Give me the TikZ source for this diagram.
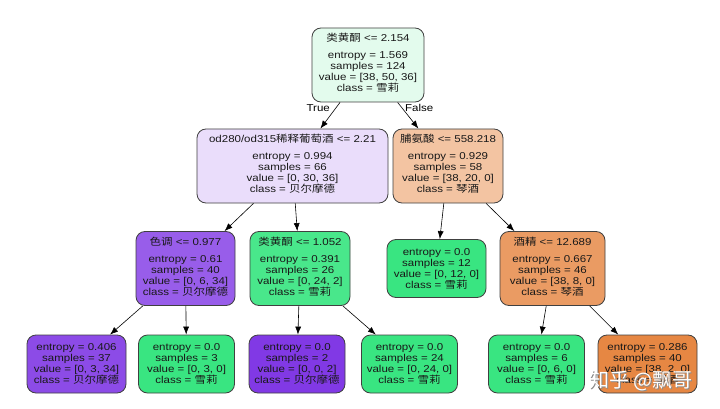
\documentclass[tikz,border=0pt]{standalone}
\usepackage{fontspec}
\usepackage{xcolor}
\setmainfont{Liberation Sans}[FakeStretch=1.15]
\newfontfamily\cjk{Noto Sans CJK SC}[FakeStretch=1.15]
\newfontfamily\cjkmark{Noto Sans CJK SC}
\newcommand{\zh}[1]{{\cjk #1}}
\usetikzlibrary{arrows.meta, positioning}
\definecolor{skorange}{HTML}{E58139}
\definecolor{skgreen}{HTML}{39E581}
\definecolor{skpurple}{HTML}{8139E5}
\tikzset{
        tnode/.style = {draw=black!75, rectangle, rounded corners=9pt,
            align=center, inner sep=2pt, line width=0.8pt,
            text=black!90, font=\fontsize{10}{11}\selectfont},
        split/.style = {tnode, minimum height=74pt,
            execute at end node={\rule[-5pt]{0pt}{5pt}}},
        leaf/.style = {tnode, minimum height=58pt, minimum width=96pt},
        arrow/.style = {draw, -{Latex[length=8pt,width=6pt]}, line width=0.6pt},
        edgelabel/.style = {font=\fontsize{10}{11}\selectfont, inner sep=1pt},
}

\begin{document}
\begin{tikzpicture}[x=1pt, y=-1pt]
\fill [white] (0,0) rectangle (720,409);
\useasboundingbox (0,0) rectangle (720,409);
% splits
\node [split, fill=skgreen!14, minimum width=112pt] (root) at (368,65)
  {\zh{类黄酮} <= 2.154\\[6pt] entropy = 1.569\\ samples = 124\\ value = [38, 50, 36]\\ class = \zh{雪莉}};
\node [split, fill=skpurple!17, minimum width=191pt] (odr) at (292.5,166)
  {od280/od315\zh{稀释葡萄酒} <= 2.21\\[6pt] entropy = 0.994\\ samples = 66\\ value = [0, 30, 36]\\ class = \zh{贝尔摩德}};
\node [split, fill=skorange!47, minimum width=110pt] (pro) at (448,166)
  {\zh{脯氨酸} <= 558.218\\[6pt] entropy = 0.929\\ samples = 58\\ value = [38, 20, 0]\\ class = \zh{琴酒}};
\node [split, fill=skpurple!82, minimum width=99pt] (hue) at (185.5,268.5)
  {\zh{色调} <= 0.977\\[6pt] entropy = 0.61\\ samples = 40\\ value = [0, 6, 34]\\ class = \zh{贝尔摩德}};
\node [split, fill=skgreen!92, minimum width=100pt] (fla) at (300,268.5)
  {\zh{类黄酮} <= 1.052\\[6pt] entropy = 0.391\\ samples = 26\\ value = [0, 24, 2]\\ class = \zh{雪莉}};
\node [leaf, fill=skgreen, minimum width=99pt] (leafa) at (436.5,268.5)
  {entropy = 0.0\\ samples = 12\\ value = [0, 12, 0]\\ class = \zh{雪莉}};
\node [split, fill=skorange!79, minimum width=105pt] (alc) at (552.5,268.5)
  {\zh{酒精} <= 12.689\\[6pt] entropy = 0.667\\ samples = 46\\ value = [38, 8, 0]\\ class = \zh{琴酒}};
% leaves
\node [leaf, fill=skpurple!91, minimum width=99pt] (leafb) at (76.5,364)
  {entropy = 0.406\\ samples = 37\\ value = [0, 3, 34]\\ class = \zh{贝尔摩德}};
\node [leaf, fill=skgreen] (leafc) at (186.5,364)
  {entropy = 0.0\\ samples = 3\\ value = [0, 3, 0]\\ class = \zh{雪莉}};
\node [leaf, fill=skpurple] (leafd) at (297,364)
  {entropy = 0.0\\ samples = 2\\ value = [0, 0, 2]\\ class = \zh{贝尔摩德}};
\node [leaf, fill=skgreen] (leafe) at (409.5,364)
  {entropy = 0.0\\ samples = 24\\ value = [0, 24, 0]\\ class = \zh{雪莉}};
\node [leaf, fill=skgreen] (leaff) at (536.5,364)
  {entropy = 0.0\\ samples = 6\\ value = [0, 6, 0]\\ class = \zh{雪莉}};
\node [leaf, fill=skorange!95, minimum width=99pt] (leafg) at (647.5,364)
  {entropy = 0.286\\ samples = 40\\ value = [38, 2, 0]\\ class = \zh{琴酒}};
% edges
\draw [arrow] (root) -- node[edgelabel, pos=0.2, left=5pt] (truelbl) {True} (odr);
\draw [arrow] (root) -- node[edgelabel, pos=0.2, right=2pt] (falselbl) {False} (pro);
\draw [arrow] (odr) -- (hue);
\draw [arrow] (odr) -- (fla);
\draw [arrow] (pro) -- (leafa);
\draw [arrow] (pro) -- (alc);
\draw [arrow] (hue) -- (leafb);
\draw [arrow] (hue) -- (leafc);
\draw [arrow] (fla) -- (leafd);
\draw [arrow] (fla) -- (leafe);
\draw [arrow] (alc) -- (leaff);
\draw [arrow] (alc) -- (leafg);
% watermark
\node [font=\cjkmark\fontsize{20}{21}\selectfont, text=black!45] (markshadow) at (641.8,381.8) {知乎 @飘哥};
\node [font=\cjkmark\fontsize{20}{21}\selectfont, text=white] (mark) at (641,381) {知乎 @飘哥};
\end{tikzpicture}
\end{document}
